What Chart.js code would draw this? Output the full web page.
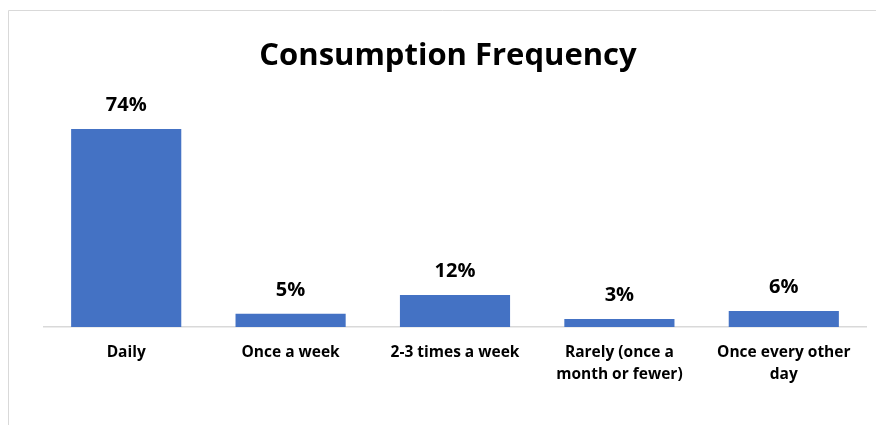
<!DOCTYPE html>
<html>
<head>
<meta charset="utf-8">
<script src="https://cdn.jsdelivr.net/npm/chart.js@4/dist/chart.umd.min.js"></script>
<style>
  html, body { margin: 0; padding: 0; background: #ffffff; }
  #wrap { position: relative; width: 876px; height: 425px; }
</style>
</head>
<body>
<div id="wrap"><canvas id="chart" width="876" height="425"></canvas></div>
<script>
// Survey: how often respondents consume the product
const categories = [
  'Daily',
  'Once a week',
  '2-3 times a week',
  ['Rarely (once a', 'month or fewer)'],
  ['Once every other', 'day']
];
const shares = [74, 5, 12, 3, 6];
const titleText = 'Consumption Frequency';

const FONT = '"Open Sans", Lato, "Liberation Sans", sans-serif';

// frame, centred title and value labels above the bars
const decorations = {
  id: 'decorations',
  beforeDraw(chart) {
    const ctx = chart.ctx;
    ctx.save();
    ctx.strokeStyle = '#d9d9d9';
    ctx.lineWidth = 1;
    ctx.beginPath();
    ctx.moveTo(8.5, chart.height);
    ctx.lineTo(8.5, 10.5);
    ctx.lineTo(chart.width, 10.5);
    ctx.stroke();

    ctx.fillStyle = '#000000';
    ctx.font = 'bold 31px ' + FONT;
    ctx.textAlign = 'center';
    ctx.textBaseline = 'alphabetic';
    ctx.fillText(titleText, 448, 65);
    ctx.restore();
  },
  afterDatasetsDraw(chart) {
    const ctx = chart.ctx;
    const meta = chart.getDatasetMeta(0);
    ctx.save();
    ctx.fillStyle = '#000000';
    ctx.font = 'bold 20px ' + FONT;
    ctx.textAlign = 'center';
    ctx.textBaseline = 'alphabetic';
    meta.data.forEach((bar, i) => {
      ctx.fillText(shares[i] + '%', bar.x, bar.y - 18);
    });
    ctx.restore();
  }
};

new Chart(document.getElementById('chart'), {
  type: 'bar',
  data: {
    labels: categories,
    datasets: [{
      data: shares,
      backgroundColor: '#4472C4',
      borderWidth: 0,
      categoryPercentage: 0.67,
      barPercentage: 1.0
    }]
  },
  options: {
    responsive: false,
    animation: false,
    layout: { padding: { left: 44, right: 10, top: 113, bottom: 0 } },
    plugins: {
      legend: { display: false },
      tooltip: { enabled: false },
      title: { display: false }
    },
    scales: {
      x: {
        grid: { display: false, drawTicks: false },
        border: { display: true, color: '#d9d9d9', width: 1.5 },
        ticks: {
          color: '#000000',
          padding: 14,
          maxRotation: 0,
          autoSkip: false,
          font: { family: FONT, size: 15.5, weight: 'bold', lineHeight: 1.45 }
        },
        afterFit(scale) { scale.height = 98; }
      },
      y: {
        display: false,
        min: 0,
        max: 80
      }
    }
  },
  plugins: [decorations]
});
</script>
</body>
</html>
